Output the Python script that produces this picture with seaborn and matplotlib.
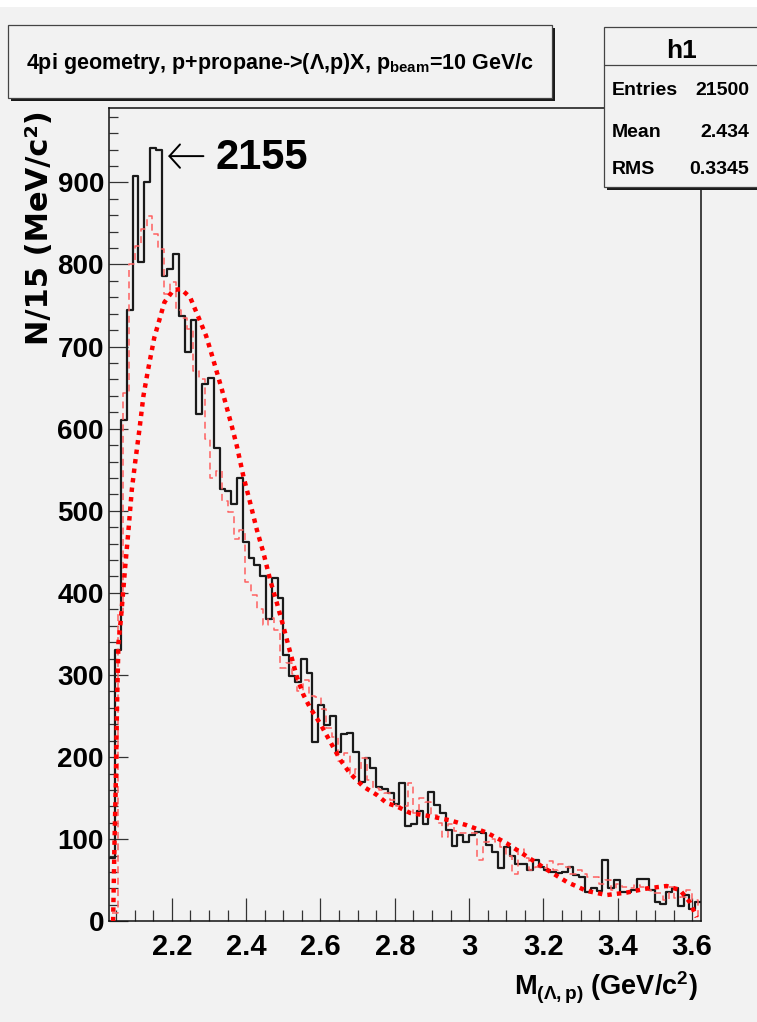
import numpy as np
import pandas as pd
import matplotlib
matplotlib.use("Agg")
import matplotlib.pyplot as plt
from matplotlib.patches import Rectangle
from matplotlib.lines import Line2D
from matplotlib import font_manager
import seaborn as sns

# ---------------- data ----------------
mass_lo, mass_hi = 2.032, 3.624

black_counts = [77, 330, 610, 745, 908, 803, 900, 942, 940, 786,
                795, 813, 737, 693, 732, 618, 655, 662, 577, 527,
                524, 508, 540, 462, 443, 434, 420, 368, 418, 394,
                324, 299, 291, 319, 303, 218, 264, 239, 250, 206,
                228, 229, 206, 170, 199, 187, 164, 161, 156, 143,
                169, 116, 119, 134, 119, 157, 142, 132, 111, 92,
                105, 96, 105, 109, 107, 93, 85, 65, 90, 80,
                70, 70, 62, 75, 66, 62, 60, 59, 60, 66,
                56, 54, 36, 40, 37, 75, 40, 50, 36, 36,
                38, 52, 52, 38, 23, 21, 36, 41, 19, 32,
                15, 23]

red_counts = [10, 377, 644, 800, 823, 843, 859, 837, 819, 764,
              779, 745, 735, 722, 670, 660, 587, 540, 548, 512,
              498, 466, 477, 413, 397, 380, 361, 369, 355, 308,
              315, 301, 280, 294, 274, 273, 258, 235, 225, 195,
              205, 180, 185, 199, 172, 162, 160, 156, 148, 140,
              140, 168, 132, 150, 145, 130, 120, 103, 118, 110,
              107, 107, 107, 75, 97, 100, 96, 90, 80, 58,
              88, 77, 63, 66, 65, 73, 62, 70, 66, 58,
              62, 58, 54, 54, 46, 50, 38, 45, 42, 40,
              44, 42, 38, 35, 34, 26, 42, 28, 30, 38,
              26, 5]

curve_mass = [2.042, 2.0453, 2.0494, 2.0525, 2.0563, 2.0627, 2.0744, 2.0834, 2.0924, 2.1013,
              2.1128, 2.1236, 2.1349, 2.1528, 2.1801, 2.2043, 2.225, 2.2492, 2.2761, 2.2923,
              2.3057, 2.3345, 2.3614, 2.3749, 2.3926, 2.4107, 2.4287, 2.4464, 2.4645, 2.4825,
              2.5002, 2.5183, 2.5363, 2.554, 2.5721, 2.599, 2.6259, 2.6528, 2.6797, 2.7155,
              2.7515, 2.7784, 2.8053, 2.8411, 2.8949, 2.9487, 2.9937, 3.0475, 3.1013, 3.1551,
              3.2089, 3.2627, 3.3165, 3.3703, 3.4241, 3.478, 3.5317, 3.5675, 3.5944, 3.6125]
curve_value = [0, 87, 172, 262, 339, 367, 431, 477, 526, 559,
               599, 640, 669, 711, 754, 769, 770, 760, 731, 713,
               693, 648, 603, 579, 542, 510, 477, 449, 416, 388,
               359, 328, 298, 276, 260, 241, 219, 197, 180, 164,
               154, 144, 140, 132, 128, 123, 117, 108, 95, 79,
               63, 48, 37, 32, 35, 40, 43, 38, 23, 5]

x_ticks = [2.2, 2.4, 2.6, 2.8, 3.0, 3.2, 3.4, 3.6]
x_tick_labels = ["2.2", "2.4", "2.6", "2.8", "3", "3.2", "3.4", "3.6"]
y_ticks = [0, 100, 200, 300, 400, 500, 600, 700, 800, 900]
y_tick_labels = [str(v) for v in y_ticks]
y_max = 990

peak_label = "2155"
peak_arrow_tip = (2.190, 932)
peak_arrow_tail = (2.285, 932)
peak_text_pos = (2.318, 916)

stats_name = "h1"
stats_rows = [("Entries", "21500"), ("Mean", "2.434"), ("RMS", "0.3345")]

# ---------------- style ----------------
sns.set_style("ticks")
installed = {f.name for f in font_manager.fontManager.ttflist}
sans = "Liberation Sans" if "Liberation Sans" in installed else "DejaVu Sans"
plt.rcParams["font.family"] = [sans, "DejaVu Sans"]
plt.rcParams["text.color"] = "black"
plt.rcParams["mathtext.fontset"] = "custom"
plt.rcParams["mathtext.rm"] = f"{sans}:bold"
plt.rcParams["mathtext.it"] = f"{sans}:bold"
plt.rcParams["mathtext.bf"] = f"{sans}:bold"
plt.rcParams["mathtext.default"] = "regular"

BG = "#f2f2f2"
W, H = 757, 1022
fig = plt.figure(figsize=(W / 100, H / 100), dpi=100, facecolor=BG)


def fx(x):
    return x / W


def fy(y):
    return 1 - y / H


# white strip along the top edge of the canvas
fig.add_artist(Rectangle((0, fy(7)), 1, 7 / H, transform=fig.transFigure,
                         facecolor="white", edgecolor="none", zorder=-1))

ax = fig.add_axes([fx(109.4), fy(921.3), fx(701) - fx(109.4), fy(108.5) - fy(921.3)])
ax.set_facecolor(BG)

edges = np.linspace(mass_lo, mass_hi, len(black_counts) + 1)
centers = 0.5 * (edges[:-1] + edges[1:])
shift = 0.4 * (edges[1] - edges[0])

hist_df = pd.DataFrame({"mass": centers, "n": black_counts})
sim_df = pd.DataFrame({"mass": centers + shift, "n": red_counts})
fit_df = pd.DataFrame({"mass": curve_mass, "n": curve_value})

sns.histplot(data=hist_df, x="mass", weights="n", bins=list(edges), element="step",
             fill=False, color="#1a1a1a", linewidth=1.6, ax=ax, zorder=3)
sns.histplot(data=sim_df, x="mass", weights="n", bins=list(edges + shift), element="step",
             fill=False, color="#ff6060", linewidth=1.1, linestyle=(0, (4.5, 3)),
             ax=ax, zorder=4)
sns.lineplot(data=fit_df, x="mass", y="n", color="#ff0000", linewidth=3.2,
             linestyle=(0, (1, 1.15)), sort=False, estimator=None, ax=ax, zorder=5)

ax.set_xlim(mass_lo, mass_hi)
ax.set_ylim(0, y_max)
ax.set_xlabel("")
ax.set_ylabel("")

ax.set_xticks(x_ticks)
ax.set_xticklabels(x_tick_labels, fontfamily=sans, fontweight="bold", fontsize=21)
ax.set_xticks(np.arange(2.05, mass_hi, 0.05), minor=True)
ax.set_yticks(y_ticks)
ax.set_yticklabels(y_tick_labels, fontfamily=sans, fontweight="bold", fontsize=20)
ax.set_yticks(np.arange(0, y_max, 20), minor=True)

ax.tick_params(axis="x", which="major", direction="in", length=16.5, width=0.9,
               color="#333333", labelcolor="black", pad=8.5)
ax.tick_params(axis="x", which="minor", direction="in", length=8, width=0.9, color="#333333")
ax.tick_params(axis="y", which="major", direction="in", length=13.5, width=0.9,
               color="#333333", labelcolor="black", pad=3.9)
ax.tick_params(axis="y", which="minor", direction="in", length=6.5, width=0.9, color="#333333")
for s in ax.spines.values():
    s.set_linewidth(1.1)
    s.set_color("#111111")

# peak marker
ax.annotate("", xy=peak_arrow_tip, xytext=peak_arrow_tail,
            arrowprops=dict(arrowstyle="->,head_length=0.38,head_width=0.42",
                            lw=1.4, color="black", mutation_scale=20,
                            shrinkA=0, shrinkB=0), zorder=6)
ax.text(*peak_text_pos, peak_label, fontfamily=sans, fontweight="bold",
        fontsize=30, ha="left", va="baseline", color="black", zorder=6)

# axis titles
fig.text(fx(40), fy(110), "N/15 (MeV/c²)", rotation=90, ha="center", va="top",
         fontfamily="DejaVu Sans", fontweight="bold", fontsize=22, color="black")
fig.text(fx(698), fy(995), r"M$_{(\Lambda,p)}$ (GeV/c$^{2}$)", ha="right", va="baseline",
         fontfamily=sans, fontweight="bold", fontsize=19.5, color="black")


def pave(x0, y0, x1, y1):
    fig.add_artist(Rectangle((fx(x0 + 3), fy(y1 + 3)), (x1 - x0) / W, (y1 - y0) / H,
                             transform=fig.transFigure, facecolor="#1a1a1a",
                             edgecolor="none", zorder=8))
    fig.add_artist(Rectangle((fx(x0), fy(y1)), (x1 - x0) / W, (y1 - y0) / H,
                             transform=fig.transFigure, facecolor=BG,
                             edgecolor="#444444", linewidth=0.9, zorder=9))


# title pave
pave(8, 25, 552, 98)
fig.text(fx(280), fy(69), r"4pi geometry, p+propane->(Λ,p)X, p$_{beam}$=10 GeV/c",
         ha="center", va="baseline", fontfamily=sans, fontweight="bold",
         fontsize=15.5, color="black", zorder=10)

# statistics pave
pave(604, 27, 770, 187)
fig.add_artist(Line2D([fx(604), fx(757)], [fy(65), fy(65)], transform=fig.transFigure,
                      color="#444444", linewidth=0.9, zorder=10))
fig.text(fx(681), fy(58), stats_name, ha="center", va="baseline", fontfamily=sans,
         fontweight="bold", fontsize=19, color="black", zorder=10)
for (lab, val), base in zip(stats_rows, [95, 137, 174]):
    fig.text(fx(612), fy(base), lab, ha="left", va="baseline", fontfamily=sans,
             fontweight="bold", fontsize=14, color="black", zorder=10)
    fig.text(fx(749), fy(base), val, ha="right", va="baseline", fontfamily=sans,
             fontweight="bold", fontsize=14, color="black", zorder=10)

fig.savefig("out.png", dpi=100, facecolor=BG)
